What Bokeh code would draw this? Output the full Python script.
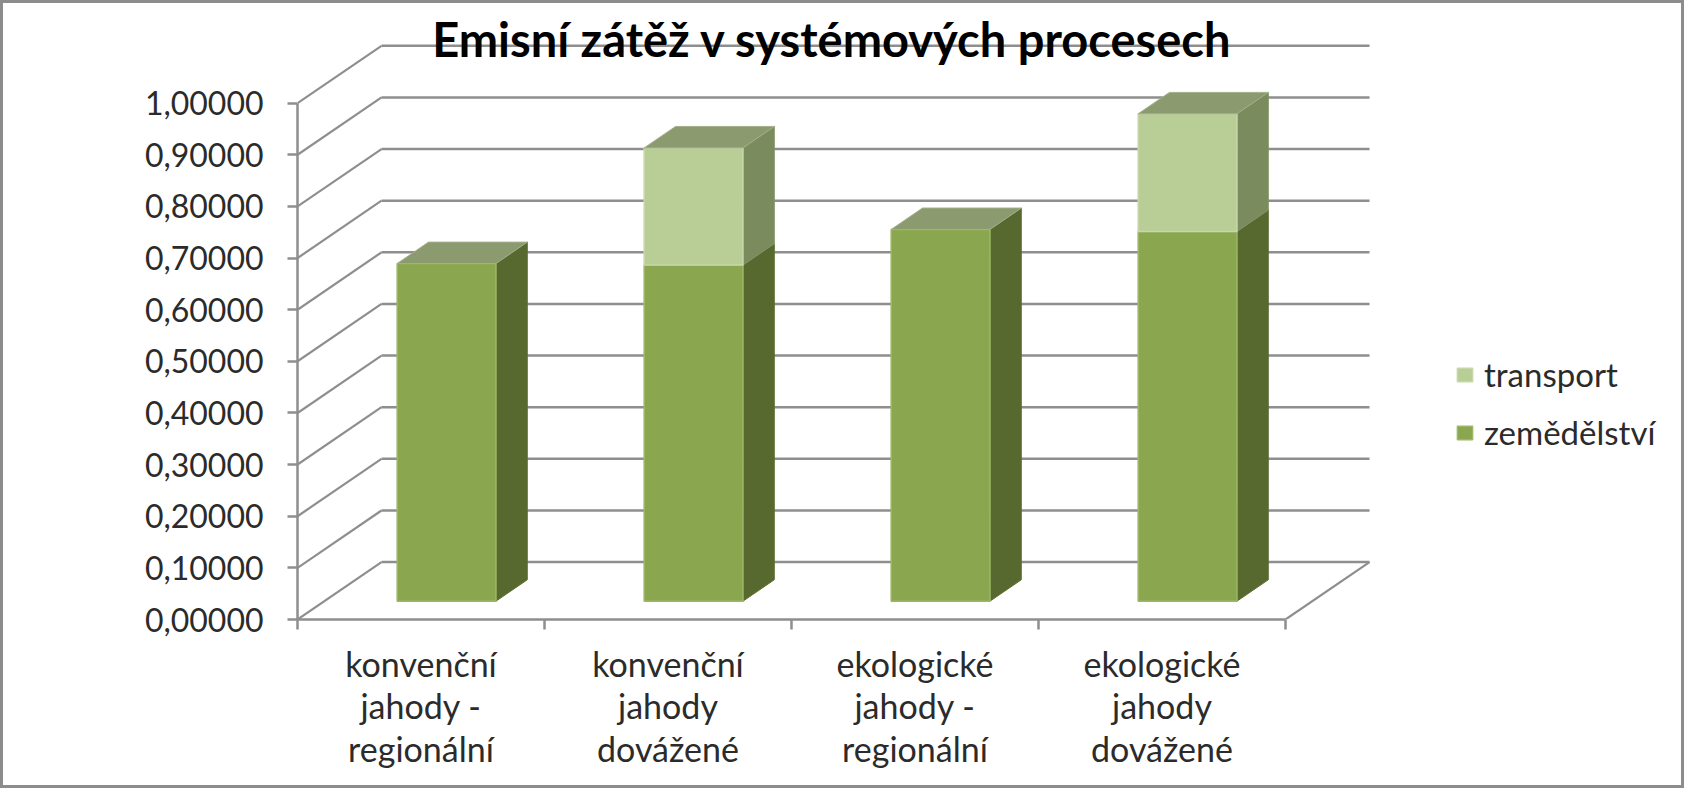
from math import pi
from bokeh.plotting import figure
from bokeh.models import (Range1d, FixedTicker, CustomJSTickFormatter, Label,
                          Legend, LegendItem, LinearAxis)
from bokeh.core.properties import value
from bokeh.embed import file_html
from bokeh.resources import INLINE

# ---------------- data ----------------
categories = ["konvenční\njahody -\nregionální",
              "konvenční\njahody\ndovážené",
              "ekologické\njahody -\nregionální",
              "ekologické\njahody\ndovážené"]
zemedelstvi = [0.654, 0.651, 0.720, 0.716]
transport = [0.0, 0.227, 0.0, 0.228]
series_names = ["transport", "zemědělství"]
y_ticks = [0.0, 0.1, 0.2, 0.3, 0.4, 0.5, 0.6, 0.7, 0.8, 0.9, 1.0]
title_text = "Emisní zátěž v systémových procesech"
y_label_text = "kg CO2e/kg jahod"

# ---------------- layout ----------------
W, H = 1684, 788
OFF = 3
FRAME_LEFT = 297 - OFF
FRAME_BOTTOM = 619 - OFF
PX_X = 247.0
PX_Y = 516.3
X_END = (W - FRAME_LEFT) / PX_X
Y_END = FRAME_BOTTOM / PX_Y
DX = 84.0 / PX_X          # depth offset (full depth) in x units
DY = 57.4 / PX_Y          # depth offset (full depth) in y units
D0, D1 = 0.319, 0.692     # bar depth (front, back)
BAR_C, BAR_W = 0.495, 0.40

GRID = "#8E8E8E"
TXT = "#2b2b2b"
FONT = "Lato"

p = figure(width=W, height=H, x_range=Range1d(0, X_END), y_range=Range1d(0, Y_END),
           output_backend="svg", toolbar_location=None,
           x_axis_type=None, y_axis_type=None,
           min_border_left=FRAME_LEFT, min_border_right=0, min_border_top=0,
           min_border_bottom=H - FRAME_BOTTOM)
p.outline_line_color = None
p.grid.visible = False
p.background_fill_color = "white"
p.border_fill_color = "white"
p.styles = {"border": "3px solid #8c8c8c"}

n = len(categories)

# back wall gridlines and left-wall diagonals
p.segment(x0=[DX] * len(y_ticks), y0=[v + DY for v in y_ticks],
          x1=[n + DX] * len(y_ticks), y1=[v + DY for v in y_ticks],
          line_color=GRID, line_width=2.5)
p.segment(x0=[0] * len(y_ticks), y0=y_ticks,
          x1=[DX] * len(y_ticks), y1=[v + DY for v in y_ticks],
          line_color=GRID, line_width=2.2)
# floor right edge
p.segment(x0=[n], y0=[0], x1=[n + DX], y1=[DY], line_color=GRID, line_width=2.2)


def faces(bottoms, tops):
    fx, fy, sx, sy = [], [], [], []
    for i, (b, t) in enumerate(zip(bottoms, tops)):
        if t - b <= 0:
            continue
        c0 = i + BAR_C - BAR_W / 2
        c1 = i + BAR_C + BAR_W / 2
        fx.append([c0 + D0 * DX, c1 + D0 * DX, c1 + D0 * DX, c0 + D0 * DX])
        fy.append([b + D0 * DY, b + D0 * DY, t + D0 * DY, t + D0 * DY])
        sx.append([c1 + D0 * DX, c1 + D1 * DX, c1 + D1 * DX, c1 + D0 * DX])
        sy.append([b + D0 * DY, b + D1 * DY, t + D1 * DY, t + D0 * DY])
    return fx, fy, sx, sy


zero = [0.0] * n
z_top = list(zemedelstvi)
t_top = [z + t for z, t in zip(zemedelstvi, transport)]

zfx, zfy, zsx, zsy = faces(zero, z_top)
tfx, tfy, tsx, tsy = faces(z_top, t_top)

p.patches(zsx, zsy, fill_color="#58692F", line_color="#5E7035", line_width=1)
p.patches(tsx, tsy, fill_color="#7A8B5D", line_color="#839466", line_width=1)
r_z = p.patches(zfx, zfy, fill_color="#8AA64E", line_color="#9DB766", line_width=1.5)
r_t = p.patches(tfx, tfy, fill_color="#B9CE97", line_color="#C6D8A8", line_width=1.5)

# top faces
topx, topy = [], []
for i, T in enumerate(t_top):
    c0 = i + BAR_C - BAR_W / 2
    c1 = i + BAR_C + BAR_W / 2
    topx.append([c0 + D0 * DX, c1 + D0 * DX, c1 + D1 * DX, c0 + D1 * DX])
    topy.append([T + D0 * DY, T + D0 * DY, T + D1 * DY, T + D1 * DY])
p.patches(topx, topy, fill_color="#8C9B6F", line_color="#A2B08A", line_width=1)

# axes
yax = LinearAxis(ticker=FixedTicker(ticks=y_ticks, minor_ticks=[]),
                 formatter=CustomJSTickFormatter(code="return tick.toFixed(5).replace('.', ',');"),
                 bounds=(0, 1))
yax.axis_line_color = GRID
yax.axis_line_width = 2.5
yax.major_tick_line_color = GRID
yax.major_tick_line_width = 2.5
yax.major_tick_out = 10
yax.major_tick_in = 0
yax.minor_tick_line_color = None
yax.major_label_standoff = 24
yax.major_label_text_font = FONT
yax.major_label_text_font_size = "32px"
yax.major_label_text_color = TXT
p.add_layout(yax, "left")

xax = LinearAxis(ticker=FixedTicker(ticks=[i + 0.5 for i in range(n)],
                                    minor_ticks=list(range(n + 1))),
                 bounds=(0, n))
xax.major_label_overrides = {i + 0.5: c for i, c in enumerate(categories)}
xax.axis_line_color = GRID
xax.axis_line_width = 2.5
xax.major_tick_line_color = None
xax.major_tick_out = 0
xax.major_tick_in = 0
xax.minor_tick_line_color = GRID
xax.minor_tick_line_width = 2.5
xax.minor_tick_out = 10
xax.minor_tick_in = 0
xax.major_label_standoff = 13
xax.major_label_text_font = FONT
xax.major_label_text_font_size = "34px"
xax.major_label_text_color = TXT
xax.major_label_text_align = "center"
xax.major_label_text_line_height = 1.04
p.add_layout(xax, "below")

# title
p.text(x=[(832 - OFF - FRAME_LEFT) / PX_X], y=[(FRAME_BOTTOM - (38 - OFF)) / PX_Y],
       text=[title_text], text_font=value(FONT), text_font_style="bold",
       text_font_size="47px", text_align="center", text_baseline="middle",
       text_color="black")

# y-axis label
p.add_layout(Label(x=(93.5 - OFF - FRAME_LEFT) / PX_X, y=0.5, text=y_label_text,
                   angle=pi / 2, text_align="center", text_baseline="middle",
                   text_font=FONT, text_font_style="bold", text_font_size="29px",
                   text_color="black"))

# legend
legend = Legend(items=[LegendItem(label=series_names[0], renderers=[r_t]),
                       LegendItem(label=series_names[1], renderers=[r_z])],
                location=(1455 - OFF - FRAME_LEFT, FRAME_BOTTOM - (432 - OFF) - 20))
legend.margin = 0
legend.padding = 0
legend.border_line_color = None
legend.background_fill_alpha = 0
legend.glyph_width = 19
legend.glyph_height = 17
legend.label_height = 40
legend.spacing = 18
legend.label_standoff = 10
legend.label_text_font = FONT
legend.label_text_font_size = "33px"
legend.label_text_color = TXT
p.add_layout(legend)

open("out.html", "w").write(file_html(p, INLINE))
